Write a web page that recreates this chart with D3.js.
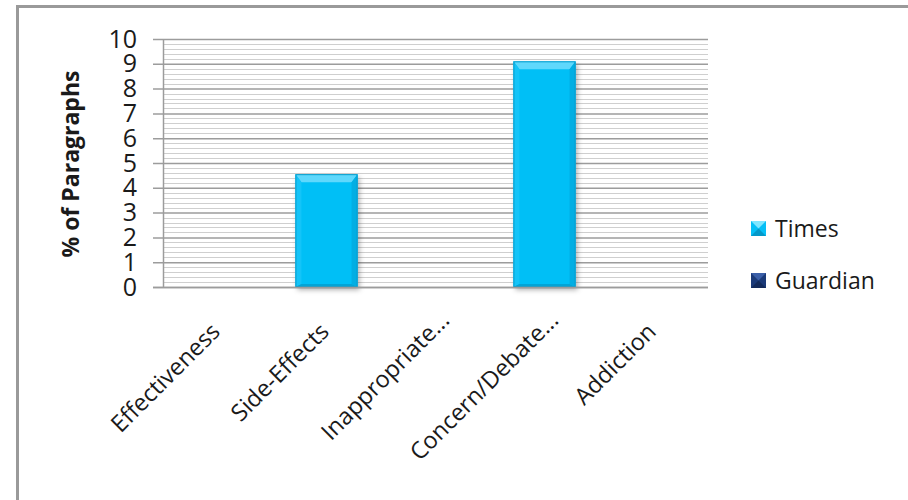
<!DOCTYPE html>
<html>
<head>
<meta charset="utf-8">
<script src="https://cdn.jsdelivr.net/npm/d3@7"></script>
<style>
  body { margin: 0; background: #fff; }
  text { font-family: "Open Sans", "DejaVu Sans", sans-serif; fill: #1a1a1a; }
</style>
</head>
<body>
<svg id="chart" width="908" height="500"></svg>
<script>
const categories = ["Effectiveness", "Side-Effects", "Inappropriate...", "Concern/Debate...", "Addiction"];
const timesValues = [0, 4.55, 0, 9.1, 0];
const guardianValues = [0, 0, 0, 0, 0];
const yTicks = [0, 1, 2, 3, 4, 5, 6, 7, 8, 9, 10];
const seriesNames = ["Times", "Guardian"];
const seriesColors = ["#05bff6", "#1b3a78"];

const svg = d3.select("#chart"),
  margin = { top: 39, left: 163, right: 200, bottom: 213 },
  width = 908 - margin.left - margin.right,
  height = 500 - margin.top - margin.bottom;

// outer frame (runs off the page at right and bottom)
svg.append("rect")
  .attr("x", 17.5).attr("y", 6.5)
  .attr("width", 1000).attr("height", 1000)
  .attr("fill", "none")
  .attr("stroke", "#9a9a9a")
  .attr("stroke-width", 3);

const defs = svg.append("defs");
const shadow = defs.append("filter").attr("id", "shadow")
  .attr("x", "-20%").attr("y", "-10%").attr("width", "150%").attr("height", "130%");
shadow.append("feDropShadow")
  .attr("dx", 2).attr("dy", 3).attr("stdDeviation", 2.5)
  .attr("flood-color", "#000").attr("flood-opacity", 0.3);

const chart = svg.append("g").attr("transform", `translate(${margin.left},${margin.top})`);

const x = d3.scaleBand().domain(categories).range([0, width]);
const y = d3.scaleLinear().domain([0, 10]).range([height, 0]);

// minor gridlines
const minor = d3.range(0, 10.001, 0.2).filter(v => Math.abs(v - Math.round(v)) > 0.01);
chart.append("g").selectAll("line")
  .data(minor)
  .enter().append("line")
  .attr("x1", 0).attr("x2", width)
  .attr("y1", d => Math.round(y(d)) + 0.5).attr("y2", d => Math.round(y(d)) + 0.5)
  .attr("stroke", "#cfcfcf");

// y axis with major gridlines
const yAxis = chart.append("g")
  .call(d3.axisLeft(y).tickValues(yTicks).tickSize(-width).tickSizeOuter(0));
yAxis.select(".domain").remove();
yAxis.selectAll(".tick line")
  .attr("x1", -10)
  .attr("stroke", "#9c9c9c")
  .attr("stroke-width", 1.5);
yAxis.selectAll(".tick text")
  .attr("x", -26)
  .style("font-size", "25px")
  .style("fill", "#1a1a1a");

chart.append("line")
  .attr("x1", 0.5).attr("x2", 0.5)
  .attr("y1", 0).attr("y2", height)
  .attr("stroke", "#9c9c9c").attr("stroke-width", 1.5);

// bars (Times)
const barW = x.bandwidth() * 0.57;
const bev = 6;
const bars = chart.selectAll(".bar")
  .data(categories.map((c, i) => ({ c, v: timesValues[i] })).filter(d => d.v > 0))
  .enter().append("g").attr("class", "bar");

bars.each(function (d) {
  const g = d3.select(this);
  const x0 = x(d.c) + (x.bandwidth() - barW) / 2, x1 = x0 + barW;
  const y0 = y(d.v), y1 = y(0);
  g.append("rect")
    .attr("x", x0).attr("y", y0).attr("width", barW).attr("height", y1 - y0)
    .attr("fill", seriesColors[0])
    .attr("filter", "url(#shadow)");
  // bevel faces
  g.append("polygon")
    .attr("points", `${x0},${y0} ${x1},${y0} ${x1 - bev},${y0 + bev + 2} ${x0 + bev},${y0 + bev + 2}`)
    .attr("fill", "#5fd8fc");
  g.append("polygon")
    .attr("points", `${x0},${y0} ${x0 + bev},${y0 + bev + 2} ${x0 + bev},${y1 - 3} ${x0},${y1}`)
    .attr("fill", "#14c4f8");
  g.append("polygon")
    .attr("points", `${x1},${y0} ${x1},${y1} ${x1 - bev},${y1 - 3} ${x1 - bev},${y0 + bev + 2}`)
    .attr("fill", "#02aee3");
  g.append("polygon")
    .attr("points", `${x0},${y1} ${x0 + bev},${y1 - 3} ${x1 - bev},${y1 - 3} ${x1},${y1}`)
    .attr("fill", "#03a4d6");
  g.append("rect")
    .attr("x", x0 + 0.5).attr("y", y0 + 0.5).attr("width", barW - 1).attr("height", y1 - y0 - 1)
    .attr("fill", "none").attr("stroke", "#0b9dcc").attr("stroke-width", 1);
});

// x axis line
chart.append("line")
  .attr("x1", -10).attr("x2", width)
  .attr("y1", height + 0.5).attr("y2", height + 0.5)
  .attr("stroke", "#9c9c9c").attr("stroke-width", 1.5);

// category labels (truncated ones sit a little further along)
chart.selectAll(".cat")
  .data(categories)
  .enter().append("text")
  .attr("class", "cat")
  .attr("text-anchor", "end")
  .attr("transform", d => `translate(${x(d) + x.bandwidth() / 2 + 4},${height + 46}) rotate(-45)`)
  .attr("dx", d => d.endsWith("...") ? 16 : 0)
  .style("font-size", "23.5px")
  .text(d => d);

// y axis title
svg.append("text")
  .attr("transform", `translate(79,${margin.top + height / 2 + 1}) rotate(-90)`)
  .attr("text-anchor", "middle")
  .style("font-size", "23px")
  .style("font-weight", "bold")
  .text("% of Paragraphs");

// legend
const legend = svg.selectAll(".legend")
  .data(seriesNames)
  .enter().append("g")
  .attr("class", "legend")
  .attr("transform", (d, i) => `translate(751,${221 + i * 52})`);

legend.append("rect")
  .attr("width", 15).attr("height", 15)
  .attr("fill", (d, i) => seriesColors[i]);
legend.append("polygon")
  .attr("points", "0,0 15,0 7.5,7.5")
  .attr("fill", (d, i) => i === 0 ? "#7fe6ff" : "#3b5fa8");
legend.append("polygon")
  .attr("points", "0,15 15,15 7.5,7.5")
  .attr("fill", (d, i) => i === 0 ? "#0498c8" : "#132a5a");

legend.append("text")
  .attr("x", 24)
  .attr("y", 16)
  .style("font-size", "23px")
  .text(d => d);
</script>
</body>
</html>
